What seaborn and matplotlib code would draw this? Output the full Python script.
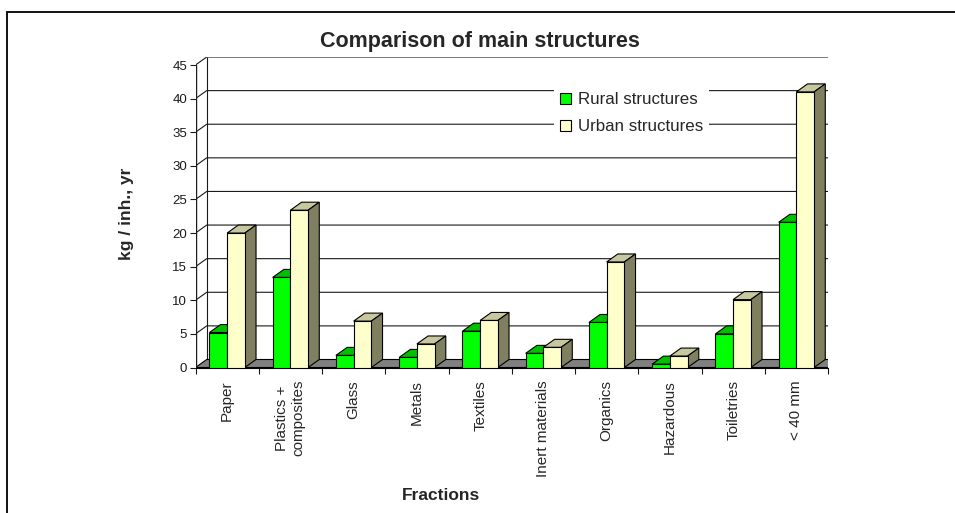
import numpy as np
import pandas as pd
import matplotlib
matplotlib.use("Agg")
import matplotlib.pyplot as plt
from matplotlib.patches import Polygon, Patch
from matplotlib.lines import Line2D
import seaborn as sns

# --- data -----------------------------------------------------------------
fractions = ["Paper", "Plastics +\ncomposites", "Glass", "Metals", "Textiles",
             "Inert materials", "Organics", "Hazardous", "Toiletries", "< 40 mm"]
rural = [5.2, 13.4, 1.8, 1.5, 5.4, 2.1, 6.7, 0.5, 5.0, 21.6]
urban = [20.0, 23.4, 6.9, 3.5, 7.0, 3.0, 15.7, 1.7, 10.1, 41.0]
series = ["Rural structures", "Urban structures"]
y_ticks = list(range(0, 50, 5))

df = pd.DataFrame({
    "Fraction": fractions * 2,
    "Structure": [series[0]] * len(fractions) + [series[1]] * len(fractions),
    "Value": rural + urban,
})

# --- styling --------------------------------------------------------------
sns.set_theme(style="white")
plt.rcParams["font.family"] = ["Liberation Sans", "DejaVu Sans"]

front_colors = {series[0]: "#00ff00", series[1]: "#ffffcc"}
top_colors = {series[0]: "#00c000", series[1]: "#c8c8a0"}
side_colors = {series[0]: "#008000", series[1]: "#808060"}

W, H = 955, 513
fig = plt.figure(figsize=(W / 100, H / 100), dpi=100)

# pseudo-3D geometry (pixels)
x_front_left, y_front_bottom = 195.5, 367.5
cat_px = 62.15
val_px = 6.722
depth_dx_px, depth_dy_px = 11.0, 8.0
ncat = len(fractions)
dxu = depth_dx_px / cat_px
dyu = depth_dy_px / val_px
ymax = y_ticks[-1]

right_px = x_front_left + ncat * cat_px + depth_dx_px
top_px = y_front_bottom - ymax * val_px - depth_dy_px
ax = fig.add_axes([x_front_left / W, (H - y_front_bottom) / H,
                   (right_px - x_front_left) / W, (y_front_bottom - top_px) / H])
ax.set_xlim(-0.5, ncat - 0.5 + dxu)
ax.set_ylim(0, ymax + dyu)
ax.set_facecolor("none")

sns.barplot(data=df, x="Fraction", y="Value", hue="Structure", order=fractions,
            hue_order=series, palette=front_colors, saturation=1, width=0.56,
            edgecolor="black", linewidth=0.8, legend=False, ax=ax)

# walls, floor and gridlines
grid_kw = dict(color="#1a1a1a", lw=0.8, zorder=1, solid_capstyle="butt")
x0, x1 = -0.5, ncat - 0.5
for v in y_ticks[1:]:
    ax.plot([x0, x0 + dxu, x1 + dxu], [v, v + dyu, v + dyu], **grid_kw)
ax.plot([x0 + dxu, x0 + dxu], [dyu, ymax + dyu], **grid_kw)
ax.plot([x1 + dxu, x1 + dxu], [dyu, ymax + dyu], **grid_kw)
ax.plot([x0, x0], [0, ymax], color="#1a1a1a", lw=1.0, zorder=2)
floor = Polygon([(x0, 0), (x1, 0), (x1 + dxu, dyu), (x0 + dxu, dyu)],
                closed=True, facecolor="#808080", edgecolor="black", lw=0.8,
                zorder=1.5)
ax.add_patch(floor)

# extrude each bar: top and side faces
bars = [b for b in ax.patches if b is not floor]
for k, bar in enumerate(bars):
    sidx = 0 if k < ncat else 1
    s = series[sidx]
    x, w, h = bar.get_x(), bar.get_width(), bar.get_height()
    cat = int(round(x + w / 2))
    z = 3 + cat * 0.1 + sidx * 0.05
    top = Polygon([(x, h), (x + w, h), (x + w + dxu, h + dyu), (x + dxu, h + dyu)],
                  closed=True, facecolor=top_colors[s], edgecolor="black",
                  lw=0.8, zorder=z)
    side = Polygon([(x + w, 0), (x + w + dxu, dyu), (x + w + dxu, h + dyu), (x + w, h)],
                   closed=True, facecolor=side_colors[s], edgecolor="black",
                   lw=0.8, zorder=z)
    ax.add_patch(top)
    ax.add_patch(side)
    bar.set_zorder(z + 0.01)

for sp in ax.spines.values():
    sp.set_visible(False)

# axes ticks and labels
ax.set_yticks(y_ticks)
ax.set_yticklabels([str(t) for t in y_ticks])
ax.tick_params(axis="y", left=True, length=4, width=0.8, direction="out",
               labelsize=9.5, pad=2, colors="#1a1a1a")
ax.set_xticks(range(ncat))
ax.set_xticklabels(fractions, rotation=90, fontsize=11, multialignment="center")
ax.set_xticks(np.arange(-0.5, ncat, 1.0), minor=True)
ax.tick_params(axis="x", which="major", bottom=True, length=0, pad=9)
ax.tick_params(axis="x", which="minor", bottom=True, length=4, width=0.8,
               direction="out", color="#1a1a1a")
ax.plot([x0, x1], [0, 0], color="black", lw=0.8, zorder=2, clip_on=False)
ax.set_xlabel("")
ax.set_ylabel("")

fig.text(480 / W, 1 - 41 / H, "Comparison of main structures", ha="center",
         va="center", fontsize=15.5, fontweight="bold")
fig.text(127 / W, 1 - 214 / H, "kg / inh., yr", ha="center", va="center",
         rotation=90, fontsize=12.5, fontweight="bold")
fig.text(441 / W, 1 - 496 / H, "Fractions", ha="center", va="center",
         fontsize=12.5, fontweight="bold")

handles = [Patch(facecolor=front_colors[s], edgecolor="black", lw=0.8) for s in series]
leg = ax.legend(handles, series, loc="upper left",
                bbox_to_anchor=(546 / W, 1 - 78 / H), bbox_transform=fig.transFigure,
                frameon=True, facecolor="white", edgecolor="none", framealpha=1,
                fancybox=False, fontsize=12.2, handlelength=0.6, handleheight=0.6,
                handletextpad=0.45, labelspacing=0.7, borderpad=0.35)
leg.set_zorder(10)

# chart frame
fig.add_artist(Line2D([7 / W, 1], [1 - 12 / H, 1 - 12 / H],
                      transform=fig.transFigure, color="#111111", lw=1.4))
fig.add_artist(Line2D([7 / W, 7 / W], [0, 1 - 12 / H],
                      transform=fig.transFigure, color="#111111", lw=1.4))

fig.savefig("out.png", dpi=100, facecolor="white")
